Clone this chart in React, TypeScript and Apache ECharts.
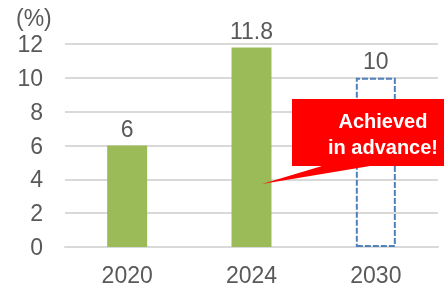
import React, { useEffect, useRef } from "react";
import * as echarts from "echarts";

const categories = ["2020", "2024", "2030"];
const actualValues: (number | string)[] = [6, 11.8, "-"];
const targetValues: (number | string)[] = ["-", "-", 10];
const yTicks = { min: 0, max: 12, interval: 2 };
const unitLabel = "(%)";
const calloutText = "Achieved\nin advance!";

const FONT = "'Liberation Sans', Arial, sans-serif";
const TEXT = "#595959";
const FS = 23;

export default function App() {
  const ref = useRef<HTMLDivElement>(null);
  useEffect(() => {
    if (!ref.current) return;
    const chart = echarts.init(ref.current, null, { renderer: "svg" });
    chart.setOption({
      animation: false,
      textStyle: { fontFamily: FONT },
      grid: { left: 65, right: 6, top: 44, bottom: 41 },
      xAxis: {
        type: "category",
        data: categories,
        axisTick: { show: false },
        axisLine: { show: true, lineStyle: { color: "#d9d9d9", width: 2 } },
        axisLabel: { color: TEXT, fontSize: FS, margin: 16, fontFamily: FONT },
      },
      yAxis: {
        type: "value",
        min: yTicks.min,
        max: yTicks.max,
        interval: yTicks.interval,
        axisLine: { show: false },
        axisTick: { show: false },
        splitLine: { lineStyle: { color: "#d9d9d9", width: 2 } },
        axisLabel: { color: TEXT, fontSize: FS, margin: 22, fontFamily: FONT },
      },
      series: [
        {
          type: "bar",
          data: actualValues,
          barWidth: 40,
          barGap: "-100%",
          itemStyle: { color: "#9bbb59" },
          label: {
            show: true,
            position: "top",
            distance: 5,
            color: TEXT,
            fontSize: FS,
            fontFamily: FONT,
          },
        },
        {
          type: "bar",
          data: targetValues,
          barWidth: 40,
          z: 1,
          itemStyle: {
            color: "rgba(0,0,0,0)",
            borderColor: "#4f81bd",
            borderWidth: 2,
            borderType: [6, 2],
          },
          label: {
            show: true,
            position: "top",
            distance: 5,
            color: TEXT,
            fontSize: FS,
            fontFamily: FONT,
          },
        },
      ],
      graphic: [
        {
          type: "text",
          left: 16,
          top: 6,
          style: { text: unitLabel, fill: TEXT, font: `${FS}px ${FONT}` },
        },
        {
          type: "polygon",
          z: 100,
          shape: {
            points: [
              [292, 99],
              [444, 99],
              [444, 166],
              [370, 166],
              [262, 184],
              [322, 166],
              [292, 166],
            ],
          },
          style: { fill: "#ff0000" },
        },
        {
          type: "text",
          z: 101,
          x: 383,
          y: 134,
          style: {
            text: calloutText,
            fill: "#ffffff",
            font: `bold 20px ${FONT}`,
            align: "center",
            verticalAlign: "middle",
            lineHeight: 26,
          },
        },
      ],
    });
    return () => chart.dispose();
  }, []);
  return (
    <div
      ref={ref}
      style={{ position: "fixed", left: 0, top: 0, width: 444, height: 288 }}
    />
  );
}
